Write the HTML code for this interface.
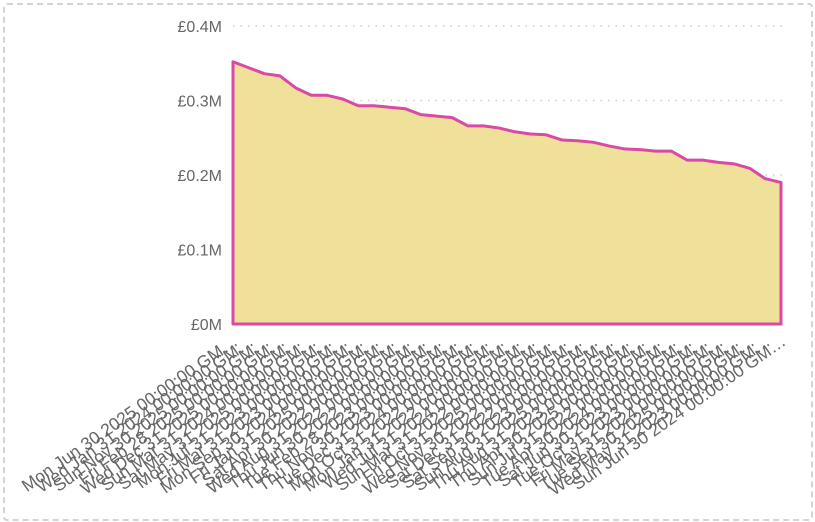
<!DOCTYPE html>
<html><head><meta charset="utf-8"><style>
html,body{margin:0;padding:0;background:#fff;}
#wrap{position:relative;width:815px;height:522px;overflow:hidden;}
#frame{position:absolute;left:3px;top:3px;width:806px;height:514px;border:2px dashed #d4d4d4;border-radius:4px;}
svg{position:absolute;left:0;top:0;font-family:"Liberation Sans",sans-serif;}
</style></head><body>
<div id="wrap">
<div id="frame"></div>
<svg id="chart" width="815" height="522"></svg>
</div>
<script>
const categories = ["Mon Jun 30 2025","Wed Jan 31 2024","Sun Nov 30 2025","Fri Feb 28 2025","Wed Dec 31 2025","Sun Mar 31 2024","Sat May 31 2025","Mon Jul 31 2023","Fri Mar 31 2023","Mon Sep 30 2024","Fri Jan 31 2025","Sat Apr 30 2022","Wed Aug 31 2022","Thu Jun 30 2022","Tue Feb 28 2023","Thu Nov 30 2023","Tue Dec 31 2024","Mon Oct 31 2022","Mon Jan 31 2022","Wed Jul 31 2024","Sun Mar 31 2022","Fri Oct 31 2025","Wed Nov 30 2022","Sat Dec 31 2022","Sat Sep 30 2023","Sun Aug 31 2025","Thu Aug 31 2023","Thu Apr 30 2025","Sun Jul 31 2022","Tue Apr 30 2024","Sat Jun 30 2023","Tue Oct 31 2023","Fri May 31 2024","Tue Sep 30 2025","Wed May 31 2023","Sun Jun 30 2024"];
const values = [0.352,0.344,0.336,0.333,0.317,0.307,0.307,0.302,0.293,0.293,0.291,0.289,0.281,0.279,0.277,0.266,0.266,0.263,0.258,0.255,0.254,0.247,0.246,0.244,0.239,0.235,0.234,0.232,0.232,0.220,0.220,0.217,0.215,0.209,0.195,0.190];
const yTicks = [0,0.1,0.2,0.3,0.4];
const yTickLabels = ["£0M","£0.1M","£0.2M","£0.3M","£0.4M"];

const NS="http://www.w3.org/2000/svg";
const svg=document.getElementById('chart');
const X0=233,X1=781,Y0=324,Y1=26;
const xScale=i=>X0+(X1-X0)*i/(categories.length-1);
const yScale=v=>Y0-(Y0-Y1)*v/0.4;
function mk(t,a){const e=document.createElementNS(NS,t);for(const k in a)e.setAttribute(k,a[k]);svg.appendChild(e);return e;}

yTicks.forEach((t,i)=>{
  const y=yScale(t);
  if(t>0){const g=mk('line',{x1:X0,x2:786,y1:y,y2:y,stroke:'#ccc','stroke-dasharray':'1.5 6','stroke-width':1.5});
  
  }
  const tx=mk('text',{x:222,y:y+6,'text-anchor':'end','font-size':16,fill:'#666'});
  tx.textContent=yTickLabels[i];
  
  
});

let d='M'+xScale(0)+','+Y0;
values.forEach((v,i)=>{d+=' L'+xScale(i)+','+yScale(v);});
d+=' L'+xScale(values.length-1)+','+Y0+' Z';
const area=mk('path',{d:d,fill:'#f0e19a',stroke:'#d94aa6','stroke-width':3,'stroke-linejoin':'round'});



categories.forEach((c,i)=>{
  const x=xScale(i);
  const t=mk('text',{x:x+6,y:344,'text-anchor':'end','font-size':17.5,fill:'#666',transform:`rotate(-35 ${x+6} 344)`});
  t.textContent=c+' 00:00:00 GM…';
  
  
});
</script>
</body></html>
